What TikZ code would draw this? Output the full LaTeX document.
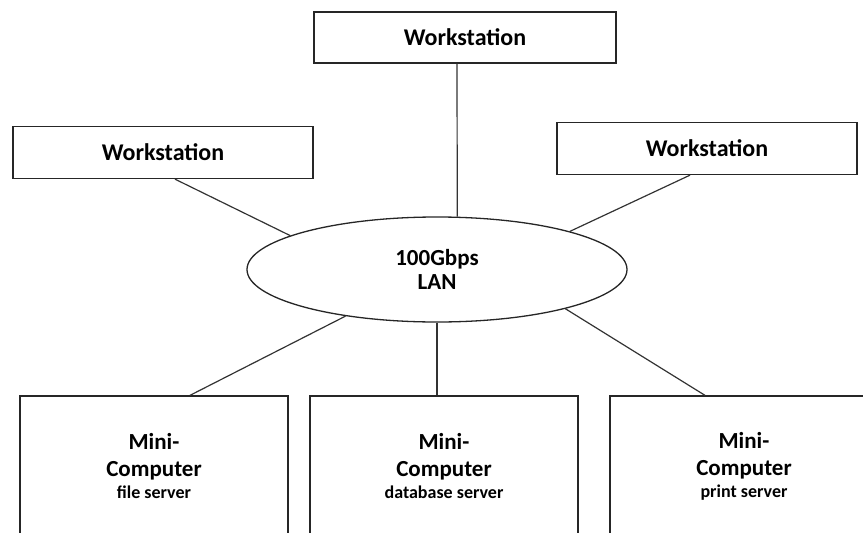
\documentclass[tikz,border=0pt]{standalone}
\usepackage{fontspec}
\setmainfont{Carlito}
\usetikzlibrary{shapes.geometric}
\tikzset{
	wsbox/.style={draw=black!85,line width=1.3pt,minimum width=300pt,minimum height=52pt,inner sep=0pt,font=\bfseries\fontsize{24}{26}\selectfont},
	pcbox/.style={draw=black!85,line width=1.3pt,minimum width=268pt,minimum height=140pt,inner sep=0pt,align=center,font=\bfseries\fontsize{23}{27}\selectfont},
	lan/.style={draw=black!85,line width=1.3pt,ellipse,minimum width=380pt,minimum height=105pt,inner sep=0pt,align=center,font=\bfseries\fontsize{23}{24}\selectfont},
	link/.style={draw=black!80,line width=1.2pt}
}
\newcommand{\srv}[1]{{\fontsize{18}{20}\selectfont #1}}
\begin{document}
\begin{tikzpicture}[x=1pt,y=-1pt]
	\useasboundingbox (0,0) rectangle (863,533);
	\clip (0,0) rectangle (863,533);
	\node[wsbox,minimum width=302pt,minimum height=51pt] (wst) at (465,37.5) {Workstation};
	\node[wsbox] (wsl) at (163,152.5) {Workstation};
	\node[wsbox] (wsr) at (707,148.5) {Workstation};
	\node[lan] (lan) at (437,269.5) {100Gbps\\LAN};
	\node[pcbox] (pcl) at (154,466) {Mini-\\Computer\\[-5pt]\srv{file server}};
	\node[pcbox] (pcm) at (444,466) {Mini-\\Computer\\[-5pt]\srv{database server}};
	\node[pcbox] (pcr) at (744,466) {Mini-\\Computer\\[-5pt]\srv{print server}};
	\draw[link] ([xshift=-8pt]wst.south) -- (lan.69);
	\draw[link] ([xshift=12pt]wsl.south) -- (lan.167);
	\draw[link] ([xshift=-17pt]wsr.south) -- (lan.16);
	\draw[link] (lan.207) -- ([xshift=36pt]pcl.north);
	\draw[link] (lan.south) -- ([xshift=-7pt]pcm.north);
	\draw[link] (lan.343) -- ([xshift=-39pt]pcr.north);
\end{tikzpicture}
\end{document}
